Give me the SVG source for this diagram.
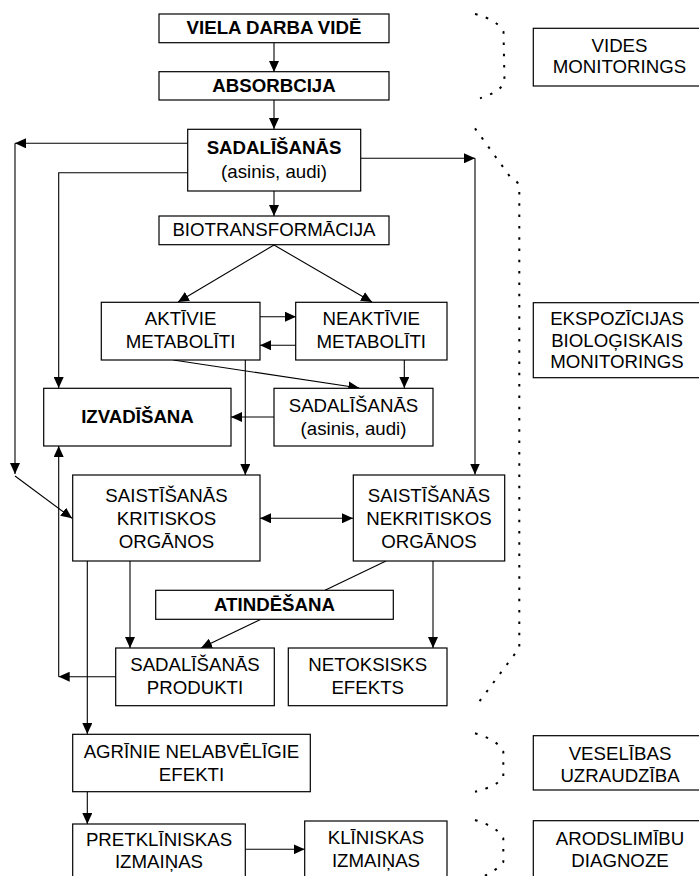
<svg xmlns="http://www.w3.org/2000/svg" width="699" height="876" viewBox="0 0 699 876">
<defs>
<marker id="ah" viewBox="0 0 11 10" refX="11" refY="5" markerWidth="11" markerHeight="10" markerUnits="userSpaceOnUse" orient="auto">
<path d="M0,0 L11,5 L0,10 z" fill="#000"/>
</marker>
<marker id="ahs" viewBox="0 0 11 10" refX="0" refY="5" markerWidth="11" markerHeight="10" markerUnits="userSpaceOnUse" orient="auto">
<path d="M11,0 L0,5 L11,10 z" fill="#000"/>
</marker>
</defs>
<style>
rect{fill:#fff;stroke:#000;stroke-width:1.2}
text{font-family:"Liberation Sans",Arial,sans-serif;font-size:18.67px;text-anchor:middle;fill:#000}
.b{font-weight:bold}
#connectors path{fill:none;stroke:#000;stroke-width:1.1}
.arr{marker-end:url(#ah)}
#brackets path{fill:none;stroke:#000;stroke-width:2;stroke-dasharray:2.5 8.8}
</style>
<rect x="0" y="0" width="699" height="876" style="stroke:none;fill:#fff"/>
<g id="connectors">
<path class="arr" d="M274,43 L274,72"/>
<path class="arr" d="M274,100 L274,129"/>
<path class="arr" d="M188,143.3 L15,143.3"/>
<path class="arr" d="M15,143.3 L15,474"/>
<path class="arr" d="M15,476 L72,518.3"/>
<path class="arr" d="M188,172.7 L58.7,172.7 L58.7,388"/>
<path class="arr" d="M361,158.3 L475,158.3"/>
<path class="arr" d="M475,158.3 L475,474.5"/>
<path class="arr" d="M274,191 L274,216"/>
<path class="arr" d="M274,245 L178,302"/>
<path class="arr" d="M274,245 L372,302"/>
<path class="arr" d="M260,316.7 L296,316.7"/>
<path class="arr" d="M296,345.3 L260,345.3"/>
<path class="arr" d="M173.3,360 L359.3,388"/>
<path class="arr" d="M404.3,360 L404.3,388"/>
<path class="arr" d="M245.3,360 L245.3,475"/>
<path class="arr" d="M274,417 L231,417"/>
<path class="arr" d="M260,518.3 L353,518.3" style="marker-start:url(#ahs)"/>
<path class="arr" d="M87.3,561 L87.3,734"/>
<path class="arr" d="M130,561 L130,648"/>
<path d="M386,561 L325,590.3"/>
<path class="arr" d="M261,619.3 L201,648"/>
<path class="arr" d="M433,561 L433,648"/>
<path class="arr" d="M116,676.7 L58.7,676.7"/>
<path class="arr" d="M58.7,676.7 L58.7,446"/>
<path class="arr" d="M87.3,791.7 L87.3,824"/>
<path class="arr" d="M245.3,849.3 L304.7,849.3"/>
</g>
<g id="brackets">
<path d="M475,14 Q498,20 503.5,32 L504.5,82 Q500,92 480,98.3"/>
<path d="M475,128.3 L510,176.7 Q519,182 519.3,187 L519.3,648 L476.7,705"/>
<path d="M475,733.3 Q498,740 503.3,751.7 L503.3,776.7 Q498,786 475,791.7"/>
<path d="M475,820 Q498,827 503.3,838.3 L503.3,862 Q498,870 480,878"/>
</g>
<g id="n-viela"><rect x="159" y="14" width="230" height="28.7"/><text class="b" x="274" y="34.3">VIELA DARBA VIDĒ</text></g>
<g id="n-absorbcija"><rect x="159" y="71.7" width="230" height="28.3"/><text class="b" x="274" y="92.3">ABSORBCIJA</text></g>
<g id="n-sadalisanas1"><rect x="187.7" y="129.3" width="173" height="61.7"/><text class="b" x="274" y="154">SADALĪŠANĀS</text><text x="274" y="178.3">(asinis, audi)</text></g>
<g id="n-biotrans"><rect x="159" y="216" width="230" height="28.7"/><text x="274" y="236">BIOTRANSFORMĀCIJA</text></g>
<g id="n-aktivie"><rect x="101.3" y="302.3" width="158.7" height="57.7"/><text x="180.6" y="325">AKTĪVIE</text><text x="180.6" y="348.3">METABOLĪTI</text></g>
<g id="n-neaktivie"><rect x="295.7" y="302.3" width="151.3" height="57.7"/><text x="371.3" y="325">NEAKTĪVIE</text><text x="371.3" y="348.3">METABOLĪTI</text></g>
<g id="n-izvadisana"><rect x="43.7" y="388.3" width="187.3" height="57.7"/><text class="b" x="137.5" y="422.7">IZVADĪŠANA</text></g>
<g id="n-sadalisanas2"><rect x="274" y="388.3" width="159" height="57.7"/><text x="353.5" y="412.3">SADALĪŠANĀS</text><text x="353.5" y="435.3">(asinis, audi)</text></g>
<g id="n-saist-krit"><rect x="72.7" y="475" width="187.3" height="86"/><text x="166.5" y="501.7">SAISTĪŠANĀS</text><text x="166.5" y="525">KRITISKOS</text><text x="166.5" y="547.7">ORGĀNOS</text></g>
<g id="n-saist-nekrit"><rect x="353.3" y="475" width="151.4" height="86"/><text x="429" y="501.7">SAISTĪŠANĀS</text><text x="429" y="525">NEKRITISKOS</text><text x="429" y="547.7">ORGĀNOS</text></g>
<g id="n-atindesana"><rect x="155.7" y="590.3" width="237.6" height="29"/><text class="b" x="274.5" y="610.7">ATINDĒŠANA</text></g>
<g id="n-sad-produkti"><rect x="115.7" y="648" width="158.6" height="57.7"/><text x="195" y="671">SADALĪŠANĀS</text><text x="195" y="694">PRODUKTI</text></g>
<g id="n-netoksisks"><rect x="288.3" y="648" width="158.7" height="57.7"/><text x="367.7" y="671">NETOKSISKS</text><text x="367.7" y="694">EFEKTS</text></g>
<g id="n-agrinie"><rect x="72.7" y="734.3" width="237.6" height="57.4"/><text x="191.5" y="758.3">AGRĪNIE NELABVĒLĪGIE</text><text x="191.5" y="780.7">EFEKTI</text></g>
<g id="n-pretkl"><rect x="72.7" y="824" width="172.6" height="70"/><text x="159" y="846">PRETKLĪNISKAS</text><text x="159" y="868.3">IZMAIŅAS</text></g>
<g id="n-klin"><rect x="304.7" y="821" width="142.3" height="70"/><text x="376" y="844">KLĪNISKAS</text><text x="376" y="866.7">IZMAIŅAS</text></g>
<g id="n-vides"><rect x="533.3" y="28.3" width="180" height="57.7"/><text x="619.5" y="51.7">VIDES</text><text x="619.5" y="73.3">MONITORINGS</text></g>
<g id="n-ekspoz"><rect x="533.3" y="302.7" width="180" height="75"/><text x="617" y="325">EKSPOZĪCIJAS</text><text x="617" y="346.7">BIOLOĢISKAIS</text><text x="617" y="368.3">MONITORINGS</text></g>
<g id="n-veseliba"><rect x="533.3" y="735.7" width="180" height="54.3"/><text x="620" y="760">VESELĪBAS</text><text x="620" y="781.7">UZRAUDZĪBA</text></g>
<g id="n-arod"><rect x="533.3" y="820.7" width="180" height="70"/><text x="620" y="845">ARODSLIMĪBU</text><text x="620" y="866.7">DIAGNOZE</text></g>
</svg>
